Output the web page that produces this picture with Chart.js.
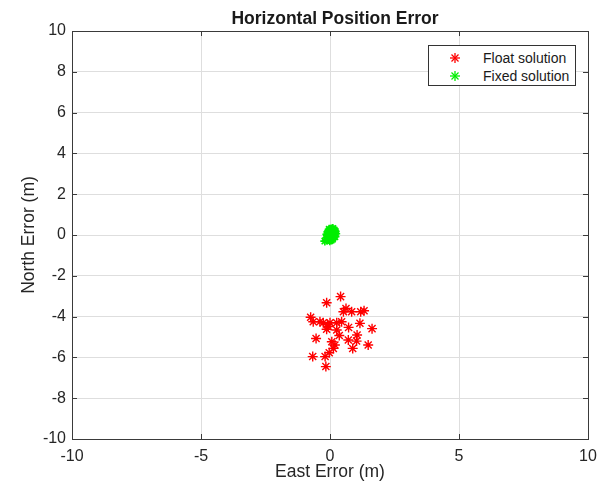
<!DOCTYPE html>
<html>
<head>
<meta charset="utf-8">
<script src="https://cdn.jsdelivr.net/npm/chart.js@4.4.1/dist/chart.umd.min.js"></script>
<style>
  html, body { margin: 0; padding: 0; background: #fff; }
  #wrap { position: relative; width: 599px; height: 492px; font-family: "Liberation Sans", Arial, sans-serif; }
  #title { position: absolute; left: 0; top: 8px; width: 670px; line-height: 20px; text-align: center; font-weight: bold; font-size: 17.5px; color: #1a1a1a; }
  #legend { position: absolute; left: 428px; top: 45px; width: 148px; height: 41px; border: 1px solid #333; background: #fff; font-size: 14px; color: #1a1a1a; box-sizing: border-box; }
  .row { position: absolute; left: 0; height: 16px; line-height: 16px; }
  .row svg { position: absolute; left: 21px; top: 3px; }
  .row span { position: absolute; left: 54px; white-space: nowrap; }
</style>
</head>
<body>
<div id="wrap">
  <canvas id="c" width="599" height="492"></canvas>
  <div id="title">Horizontal Position Error</div>
  <div id="legend">
    <div class="row" style="top:4px"><svg width="10" height="10"><g stroke="#ff0000" stroke-width="1.3"><line x1="5" y1="0" x2="5" y2="10"/><line x1="0" y1="5" x2="10" y2="5"/><line x1="1.5" y1="1.5" x2="8.5" y2="8.5"/><line x1="8.5" y1="1.5" x2="1.5" y2="8.5"/></g></svg><span>Float solution</span></div>
    <div class="row" style="top:22px"><svg width="10" height="10"><g stroke="#00ee00" stroke-width="1.3"><line x1="5" y1="0" x2="5" y2="10"/><line x1="0" y1="5" x2="10" y2="5"/><line x1="1.5" y1="1.5" x2="8.5" y2="8.5"/><line x1="8.5" y1="1.5" x2="1.5" y2="8.5"/></g></svg><span>Fixed solution</span></div>
  </div>
</div>
<script>
const xTicks = [-10, -5, 0, 5, 10];
const yTicks = [-10, -8, -6, -4, -2, 0, 2, 4, 6, 8, 10];

const floatEast  = [0.41, -0.13, -0.75, -0.65, -0.26, 0.00, 0.26, 0.45, 0.52, 0.62, 0.84, 1.19, 1.32, 1.16, 1.63, 0.72, -0.13, 0.26, -0.54, 0.07, 0.19, 0.71, 1.03, 0.88, 1.48, 0.13, -0.03, -0.67, -0.19, -0.16, 0.36, -0.39, -0.07, 1.05, -0.10];
const floatNorth = [-3.02, -3.32, -4.03, -4.25, -4.30, -4.30, -4.30, -4.25, -3.76, -3.60, -3.76, -3.76, -3.71, -4.33, -4.59, -4.53, -4.62, -4.66, -5.07, -5.23, -5.39, -5.15, -5.20, -5.56, -5.39, -5.56, -5.77, -5.96, -5.96, -6.45, -4.93, -4.25, -4.49, -4.90, -4.40];

const fixedEast  = [0.05, 0.10, 0.15, 0.12, 0.08, 0.02, -0.03, -0.05, 0.00, 0.04, 0.09, 0.14, 0.18, 0.16, 0.11, 0.06, 0.01, -0.04, -0.08, -0.10, -0.06, -0.02, 0.03, 0.07, 0.13, 0.17, 0.10, 0.05, -0.01, -0.07, -0.12, -0.20, 0.00, 0.08, 0.15, 0.12, 0.04, -0.03, 0.06, 0.02, 0.20, 0.22, 0.19, -0.12, -0.14];
const fixedNorth = [0.30, 0.28, 0.22, 0.15, 0.10, 0.18, 0.12, 0.02, -0.05, 0.05, 0.02, 0.08, 0.12, 0.25, 0.32, 0.20, 0.25, 0.20, 0.10, -0.02, -0.12, -0.18, -0.10, -0.15, -0.05, 0.00, -0.20, -0.25, -0.28, -0.22, -0.15, -0.30, 0.08, 0.15, 0.05, -0.12, -0.08, 0.28, 0.00, -0.22, 0.18, 0.06, -0.08, 0.04, -0.25];

const toPts = (xs, ys) => xs.map((x, i) => ({ x, y: ys[i] }));

// box around plot + inward tick marks on all four sides
const frame = {
  id: 'frame',
  afterDraw(chart) {
    const { ctx, chartArea: a, scales } = chart;
    ctx.save();
    ctx.strokeStyle = '#3a3a3a';
    ctx.lineWidth = 1;
    ctx.beginPath();
    xTicks.forEach(v => {
      const px = Math.round(scales.x.getPixelForValue(v)) + 0.5;
      ctx.moveTo(px, a.bottom); ctx.lineTo(px, a.bottom - 5);
      ctx.moveTo(px, a.top); ctx.lineTo(px, a.top + 5);
    });
    yTicks.forEach(v => {
      const py = Math.round(scales.y.getPixelForValue(v)) + 0.5;
      ctx.moveTo(a.left, py); ctx.lineTo(a.left + 5, py);
      ctx.moveTo(a.right, py); ctx.lineTo(a.right - 5, py);
    });
    ctx.stroke();
    ctx.strokeRect(Math.round(a.left) + 0.5, Math.round(a.top) + 0.5, Math.round(a.right - a.left), Math.round(a.bottom - a.top));
    ctx.restore();
  }
};

new Chart(document.getElementById('c'), {
  type: 'scatter',
  data: {
    datasets: [
      { label: 'Float solution', data: toPts(floatEast, floatNorth), pointStyle: 'star', radius: 5, borderColor: '#ff0000', backgroundColor: '#ff0000', borderWidth: 1.4 },
      { label: 'Fixed solution', data: toPts(fixedEast, fixedNorth), pointStyle: 'star', radius: 4.5, borderColor: '#00ee00', backgroundColor: '#00ee00', borderWidth: 1.6 }
    ]
  },
  options: {
    responsive: false,
    animation: false,
    layout: { padding: { top: 31, right: 11, left: 0, bottom: 0 } },
    plugins: { legend: { display: false }, title: { display: false }, tooltip: { enabled: false } },
    scales: {
      x: {
        min: -10, max: 10,
        afterBuildTicks: s => { s.ticks = xTicks.map(v => ({ value: v })); },
        afterFit: s => { s.height = 53; s.paddingLeft = 0; s.paddingRight = 0; },
        ticks: { color: '#262626', font: { family: 'Liberation Sans', size: 16 }, padding: 8 },
        grid: { color: '#dedede', drawTicks: false },
        border: { display: false },
        title: { display: true, text: 'East Error (m)', color: '#262626', font: { family: 'Liberation Sans', size: 17.5 }, padding: { top: 0, bottom: 9 } }
      },
      y: {
        min: -10, max: 10,
        afterBuildTicks: s => { s.ticks = yTicks.map(v => ({ value: v })); },
        afterFit: s => { s.width = 72; s.paddingTop = 0; s.paddingBottom = 0; },
        ticks: { color: '#262626', font: { family: 'Liberation Sans', size: 16 }, padding: 6 },
        grid: { color: '#dedede', drawTicks: false },
        border: { display: false },
        title: { display: true, text: 'North Error (m)', color: '#262626', font: { family: 'Liberation Sans', size: 17.5 }, padding: { top: 19, bottom: 0 } }
      }
    }
  },
  plugins: [frame]
});
</script>
</body>
</html>
